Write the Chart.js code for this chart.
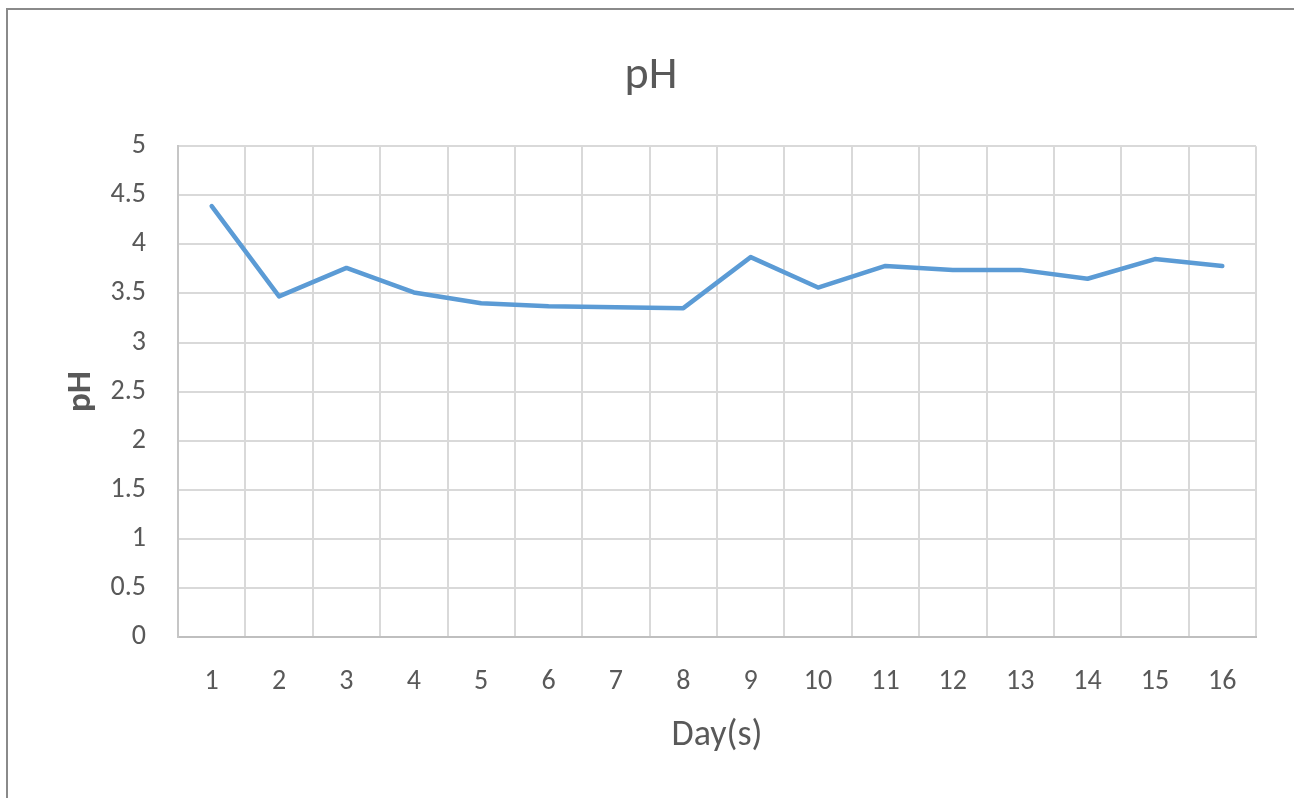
<!DOCTYPE html>
<html>
<head>
<meta charset="utf-8">
<title>pH</title>
<script src="https://cdn.jsdelivr.net/npm/chart.js@4.4.1/dist/chart.umd.min.js"></script>
<style>
    html, body { margin: 0; padding: 0; background: #fff; overflow: hidden; }
    #wrap { position: relative; width: 1294px; height: 798px; }
    #frame {
        position: absolute; left: 6px; top: 8px; width: 1400px; height: 900px;
        border: 2px solid #8a8a8a; box-sizing: border-box; pointer-events: none;
    }
</style>
</head>
<body>
<div id="wrap">
    <canvas id="phChart" width="1294" height="798"></canvas>
    <div id="frame"></div>
</div>
<script>
// Chart data
var days = ['1', '2', '3', '4', '5', '6', '7', '8', '9', '10', '11', '12', '13', '14', '15', '16'];
var phValues = [4.39, 3.47, 3.76, 3.51, 3.40, 3.37, 3.36, 3.35, 3.87, 3.56, 3.78, 3.74, 3.74, 3.65, 3.85, 3.78];
var yTickLabels = ['0', '0.5', '1', '1.5', '2', '2.5', '3', '3.5', '4', '4.5', '5'];

var textColor = '#595959';
var fontFamily = 'Carlito, Lato, sans-serif';

const ctx = document.getElementById('phChart').getContext('2d');
new Chart(ctx, {
    type: 'line',
    data: {
        labels: days,
        datasets: [{
            label: 'pH',
            data: phValues,
            borderColor: '#5b9bd5',
            borderWidth: 4.5,
            borderJoinStyle: 'round',
            borderCapStyle: 'round',
            pointRadius: 0,
            tension: 0,
            fill: false
        }]
    },
    options: {
        responsive: false,
        animation: false,
        layout: {
            // left/right padding keeps the title centred on the whole frame
            padding: { left: 46, right: 38, top: 0, bottom: 0 }
        },
        plugins: {
            legend: { display: false },
            tooltip: { enabled: false },
            title: {
                display: true,
                text: 'pH',
                color: textColor,
                font: { family: fontFamily, size: 46, weight: 'normal' },
                padding: { top: 49, bottom: 42 }
            }
        },
        scales: {
            x: {
                offset: true,
                grid: {
                    offset: true,
                    color: '#d9d9d9',
                    lineWidth: 2,
                    drawTicks: false
                },
                border: { color: '#bfbfbf', width: 2 },
                ticks: {
                    color: textColor,
                    font: { family: fontFamily, size: 28 },
                    padding: 28,
                    maxRotation: 0,
                    autoSkip: false
                },
                title: {
                    display: true,
                    text: 'Day(s)',
                    color: textColor,
                    font: { family: fontFamily, size: 36 },
                    padding: { top: 0, bottom: 40 }
                },
                afterFit: function(scale) {
                    scale.height = 161;
                }
            },
            y: {
                min: 0,
                max: 5,
                grid: {
                    color: '#d9d9d9',
                    lineWidth: 2,
                    drawTicks: false
                },
                border: { color: '#c6c6c6', width: 2 },
                ticks: {
                    stepSize: 0.5,
                    color: textColor,
                    font: { family: fontFamily, size: 28 },
                    padding: 32,
                    callback: function(value, index) {
                        return yTickLabels[index];
                    }
                },
                title: {
                    display: true,
                    text: 'pH',
                    color: textColor,
                    font: { family: fontFamily, size: 35, weight: 'bold' },
                    padding: { top: 14, bottom: 0 }
                },
                afterFit: function(scale) {
                    scale.width = 132;
                }
            }
        }
    }
});
</script>
</body>
</html>
